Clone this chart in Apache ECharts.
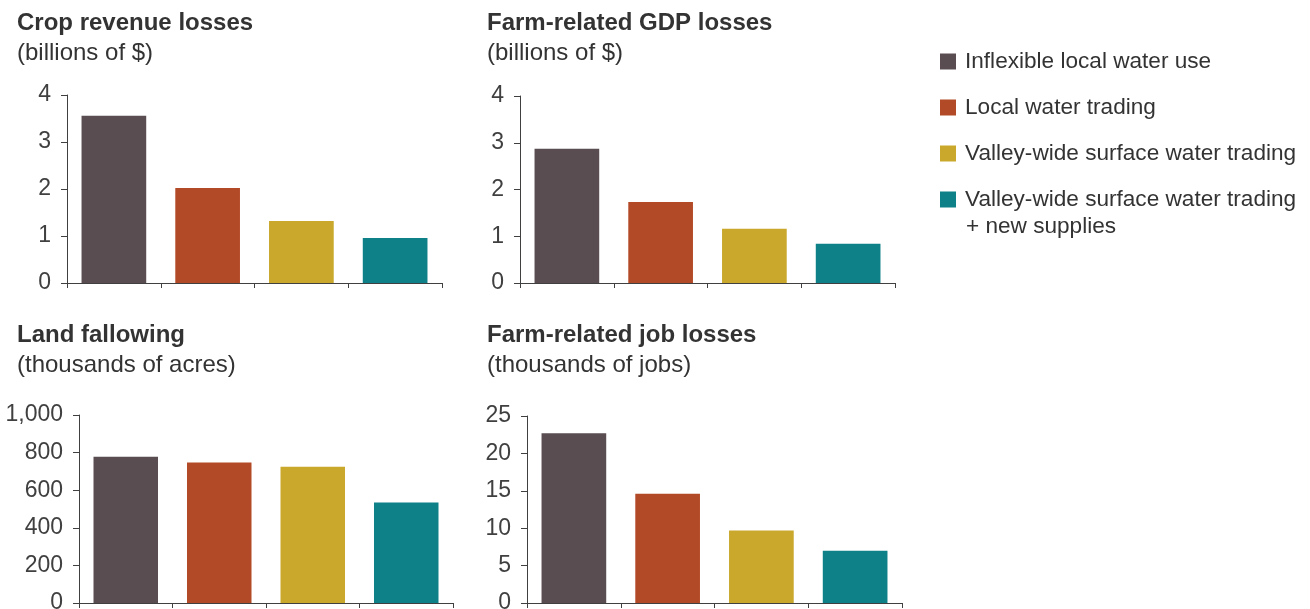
<!DOCTYPE html>
<html>
<head>
<meta charset="utf-8">
<script src="https://cdn.jsdelivr.net/npm/echarts@6/dist/echarts.min.js"></script>
<style>
html,body{margin:0;padding:0;background:#fff;}
#chart{width:1310px;height:609px;}
</style>
</head>
<body>
<div id="chart"></div>
<script>
// ---- data ----
const categories = [
  'Inflexible local water use',
  'Local water trading',
  'Valley-wide surface water trading',
  'Valley-wide surface water trading + new supplies'
];
const cropRevenueLosses = [3.56, 2.02, 1.32, 0.96];
const gdpLosses = [2.87, 1.73, 1.16, 0.84];
const landFallowing = [778, 747, 725, 534];
const jobLosses = [22.7, 14.6, 9.7, 7.0];
const panelTitles = ['Crop revenue losses', 'Farm-related GDP losses', 'Land fallowing', 'Farm-related job losses'];
const panelUnits = ['(billions of $)', '(billions of $)', '(thousands of acres)', '(thousands of jobs)'];
const yMax = [4, 4, 1000, 25];
const yStep = [1, 1, 200, 5];

// ---- style / layout ----
const colors = ['#594d52', '#b34a27', '#c9a82c', '#0e8087'];
const FONT = 'Liberation Sans, Arial, Helvetica, sans-serif';
const axisColor = '#404040';
const panelValues = [cropRevenueLosses, gdpLosses, landFallowing, jobLosses];
const grids = [
  {left: 67, top: 95, width: 375, height: 188},
  {left: 520, top: 96, width: 375, height: 187},
  {left: 79, top: 415, width: 374, height: 188},
  {left: 527, top: 416, width: 375, height: 187}
];
const titlePos = [
  {left: 17, top: 11},
  {left: 487, top: 11},
  {left: 17, top: 323},
  {left: 487, top: 323}
];

const chart = echarts.init(document.getElementById('chart'));

const titles = panelTitles.map((t, i) => ({
  text: t,
  subtext: panelUnits[i],
  left: titlePos[i].left,
  top: titlePos[i].top,
  padding: 0,
  itemGap: 6,
  textStyle: {fontFamily: FONT, fontSize: 24, fontWeight: 'bold', color: '#333'},
  subtextStyle: {fontFamily: FONT, fontSize: 24, color: '#333'}
}));

const xAxes = grids.map((g, i) => ({
  type: 'category',
  gridIndex: i,
  data: categories,
  boundaryGap: true,
  axisLine: {show: true, lineStyle: {color: axisColor, width: 1}},
  axisTick: {show: true, interval: 0, length: 5, lineStyle: {color: axisColor}},
  axisLabel: {show: false},
  splitLine: {show: false}
}));

const yAxes = grids.map((g, i) => ({
  type: 'value',
  gridIndex: i,
  min: 0,
  max: yMax[i],
  interval: yStep[i],
  axisLine: {show: true, lineStyle: {color: axisColor, width: 1}},
  axisTick: {show: true, length: 6, lineStyle: {color: axisColor}},
  axisLabel: {
    show: true, margin: 16, color: axisColor, fontFamily: FONT, fontSize: 23,
    formatter: v => v.toLocaleString('en-US')
  },
  splitLine: {show: false}
}));

const series = [];
panelValues.forEach((vals, p) => {
  categories.forEach((name, k) => {
    series.push({
      type: 'bar',
      name: name,
      xAxisIndex: p,
      yAxisIndex: p,
      stack: 'panel' + p,
      barCategoryGap: '31%',
      itemStyle: {color: colors[k]},
      data: vals.map((v, i) => (i === k ? v : '-')),
      silent: true
    });
  });
});

chart.setOption({
  animation: false,
  color: colors,
  title: titles,
  grid: grids.map(g => Object.assign({containLabel: false, outerBoundsMode: 'none'}, g)),
  xAxis: xAxes,
  yAxis: yAxes,
  legend: {
    data: categories,
    orient: 'vertical',
    left: 940,
    top: 50,
    padding: 0,
    itemWidth: 16,
    itemHeight: 16,
    itemGap: 23,
    icon: 'rect',
    selectedMode: false,
    textStyle: {fontFamily: FONT, fontSize: 22.6, color: '#333', padding: [0, 0, 0, 4]},
    formatter: name => (name === categories[3] ? 'Valley-wide surface water trading' : name)
  },
  graphic: [{
    type: 'text',
    left: 966,
    top: 215,
    style: {text: '+ new supplies', font: '22.6px ' + FONT, fill: '#333'}
  }],
  series: series
});
</script>
</body>
</html>
